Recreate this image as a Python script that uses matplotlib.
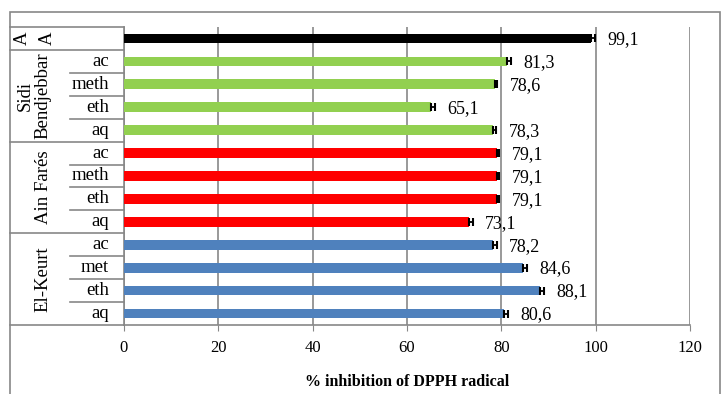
import matplotlib.pyplot as plt
from matplotlib.patches import Rectangle

# rows from bottom to top
sub_labels = ["aq", "eth", "met", "ac", "aq", "eth", "meth", "ac", "aq", "eth", "meth", "ac", "A"]
values = [80.6, 88.1, 84.6, 78.2, 73.1, 79.1, 79.1, 79.1, 78.3, 65.1, 78.6, 81.3, 99.1]
errors = [0.8, 0.9, 0.8, 0.8, 0.8, 0.5, 0.5, 0.5, 0.6, 0.8, 0.5, 0.8, 0.8]
groups = ["El-Keurt", "Ain Farés", "Sidi\nBendjebbar", "A"]
group_sizes = [4, 4, 4, 1]
group_colors = ["#4F81BD", "#FF0000", "#92D050", "#000000"]

plt.rcParams['font.family'] = ['Liberation Serif', 'DejaVu Serif']
W, H = 722, 394
fig = plt.figure(figsize=(W / 100, H / 100), dpi=100)

x0, x1, ytop, ybot = 124, 690, 27, 325
ax = fig.add_axes([x0 / W, 1 - ybot / H, (x1 - x0) / W, (ybot - ytop) / H])

colors = []
for c, n in zip(group_colors, group_sizes):
    colors += [c] * n

y = list(range(len(values)))
ax.barh(y, values, height=0.42, color=colors, zorder=3)
ax.errorbar(values, y, xerr=[[0] * len(errors), errors], fmt='none', ecolor='black',
            elinewidth=1.3, capsize=3, capthick=1.5, zorder=4)
for yi, v, e in zip(y, values, errors):
    ax.annotate(f"{v:.1f}".replace('.', ','), (v + e, yi), xytext=(9, -1),
                textcoords='offset points', va='center', ha='left', fontsize=13)

ax.set_xlim(0, 120)
ax.set_ylim(-0.5, len(values) - 0.5)
ax.set_xticks(range(0, 121, 20))
ax.tick_params(axis='x', labelsize=12, length=4, color='#878787', pad=7)
ax.set_yticks([])
ax.grid(axis='x', color='#878787', lw=1.2, zorder=0)
ax.set_axisbelow(True)
for s in ['top', 'right']:
    ax.spines[s].set_visible(False)
for s in ['left', 'bottom']:
    ax.spines[s].set_color('#878787')
    ax.spines[s].set_linewidth(1.2)
ax.set_xlabel("% inhibition of DPPH radical", fontsize=11.5, fontweight='bold', labelpad=13)

# category table on the left
xa = lambda px: (px - x0) / (x1 - x0)
yt = ax.get_yaxis_transform()
lkw = dict(transform=yt, color='#878787', lw=1.2, clip_on=False)
ax.plot([xa(10), 0], [len(values) - 0.5] * 2, **lkw)
ax.plot([xa(10), 0], [-0.5, -0.5], **lkw)
start = 0
for g, n in zip(groups, group_sizes):
    for k in range(1, n):
        ax.plot([xa(70), 0], [start + k - 0.5] * 2, **lkw)
    if start > 0:
        ax.plot([xa(10), 0], [start - 0.5] * 2, **lkw)
    mid = start + (n - 1) / 2
    if g == "A":
        ax.text(xa(22), mid, "A", transform=yt, rotation=90, ha='center', va='center', fontsize=13.5)
        ax.text(xa(47), mid, "A", transform=yt, rotation=90, ha='center', va='center', fontsize=13.5)
    else:
        gx = 34 if "\n" in g else 43
        ax.text(xa(gx), mid, g, transform=yt, rotation=90, ha='center', va='center',
                fontsize=13.5, linespacing=1.05)
    start += n
for yi, s in zip(y, sub_labels):
    if s != "A":
        ax.text(xa(109), yi, s, transform=yt, ha='right', va='center', fontsize=13.5)

# outer frame
fig.patches.append(Rectangle((10 / W, -0.05), 710 / W, 1.05 - 12 / H, transform=fig.transFigure,
                             fill=False, edgecolor='#878787', lw=1.2))

fig.savefig("out.png", dpi=100)
